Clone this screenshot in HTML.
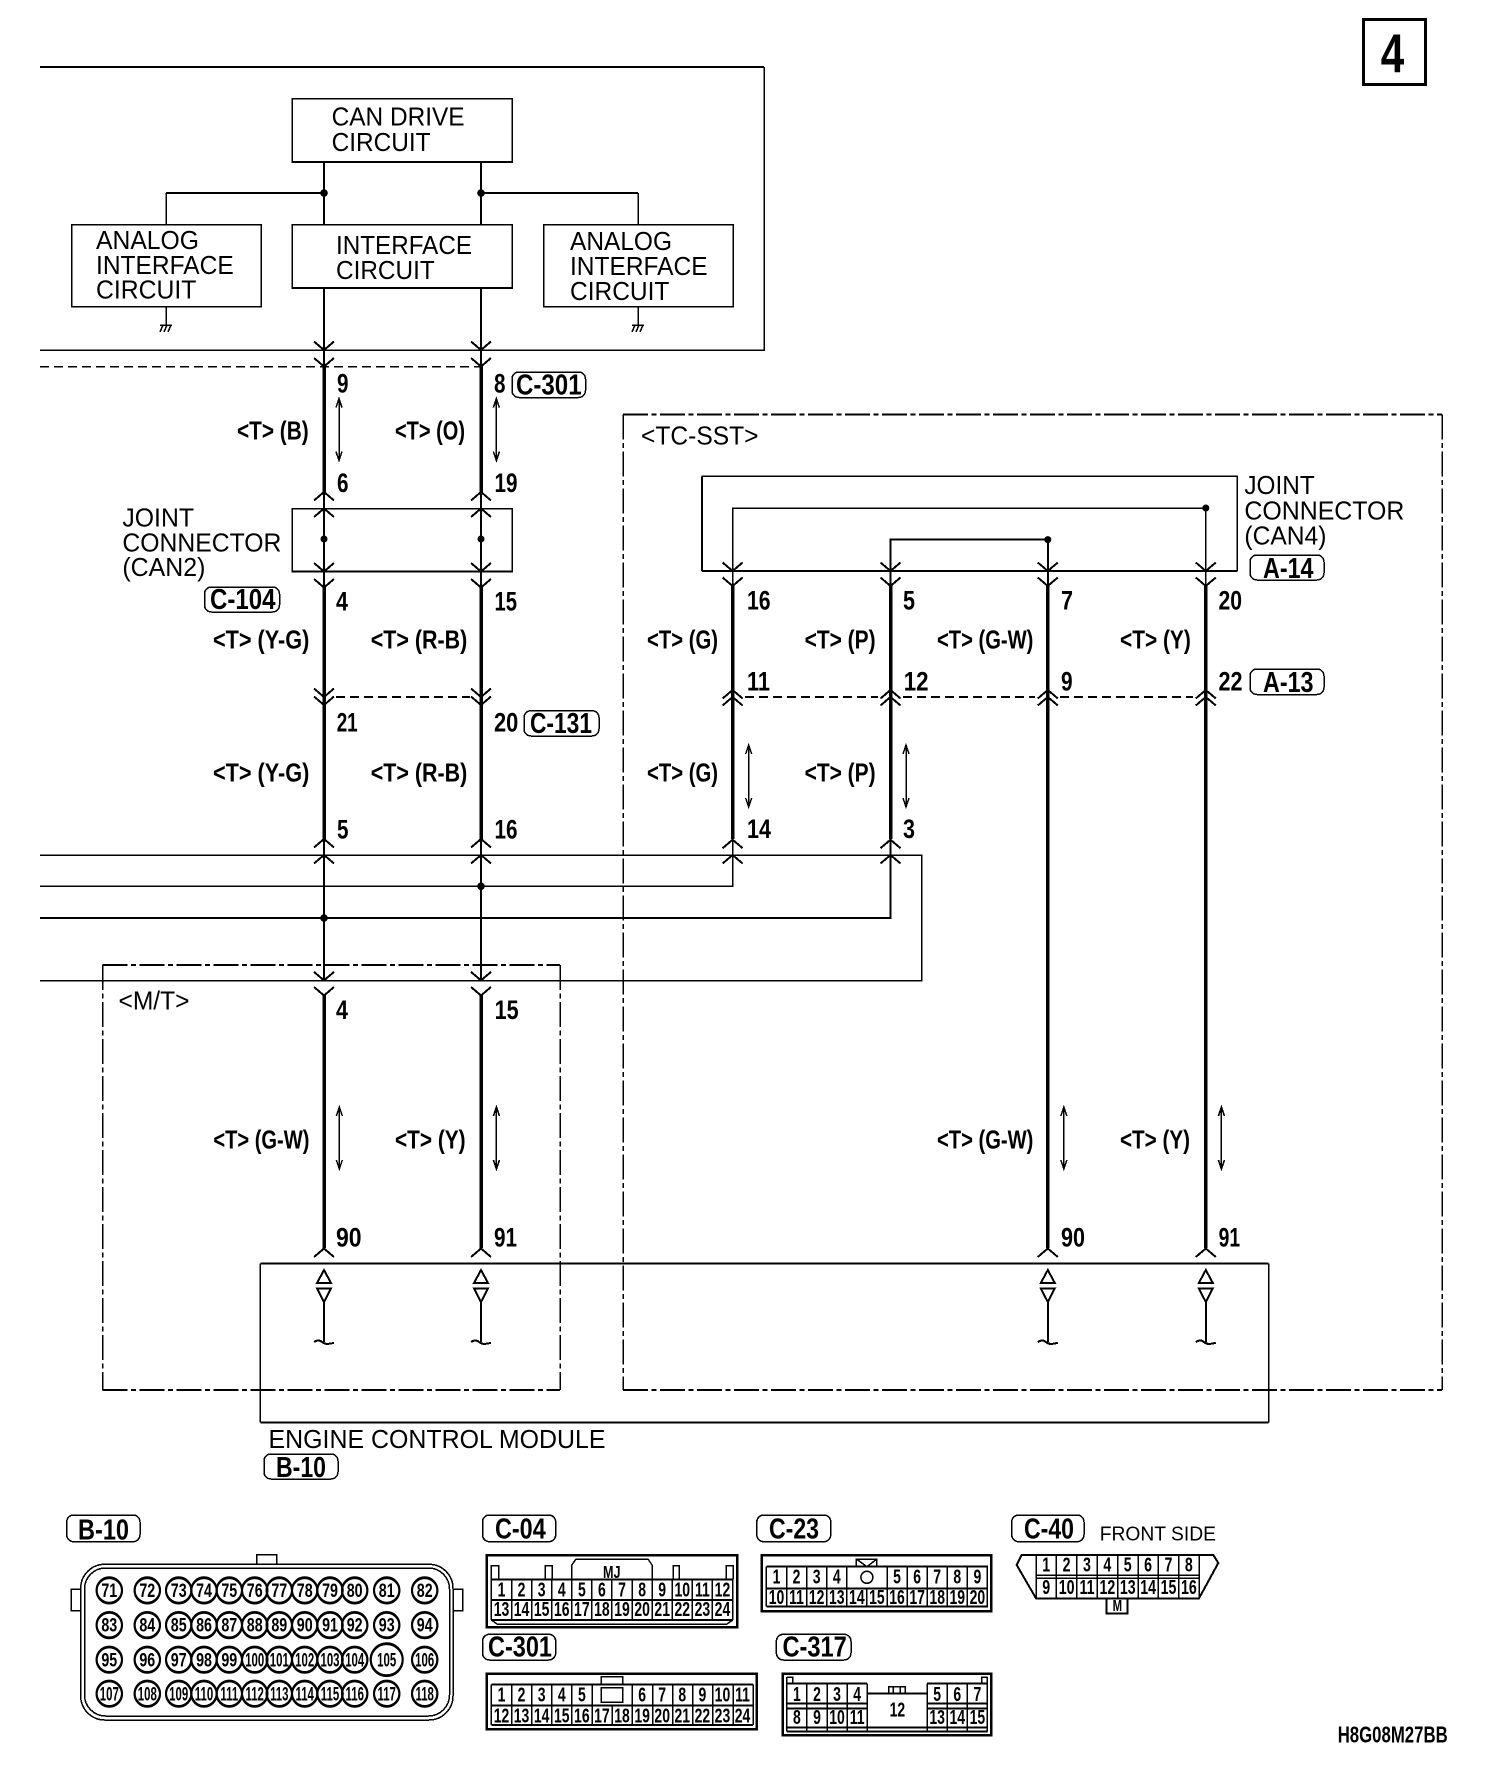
<!DOCTYPE html>
<html><head><meta charset="utf-8"><style>
html,body{margin:0;padding:0;background:#fff}
svg{display:block}
text{font-family:"Liberation Sans",sans-serif;fill:#000;stroke:none}
.t{font-size:26px}
.b{font-size:27px;font-weight:bold}
.g{font-size:29px;font-weight:bold}
.l{font-size:26px;font-weight:bold}
.n text{font-size:20px;font-weight:bold;text-anchor:middle}
.c text{font-size:19px;font-weight:bold;text-anchor:middle}
.s path,.s rect,.s circle,.s use{fill:none;stroke:#000;stroke-width:2}
path,rect{shape-rendering:crispEdges}
.s .th{stroke-width:3.5}
.s .f{stroke-width:1.5}
.s .bx{stroke-width:2.5}
.s .dd{stroke-dasharray:25 3.5 5 3.5}
.s .dv{stroke-width:1.5;stroke-dasharray:25 3.5 5 3.5}
.s .dot{fill:#000;stroke:none}
</style></head><body>
<svg xmlns="http://www.w3.org/2000/svg" width="1504" height="1768" viewBox="0 0 1504 1768">
<rect width="1504" height="1768" fill="#fff"/>
<defs>
<path id="v" d="M-10,-8.5L0,0L10,-8.5"/>
<path id="u" d="M-10,8.5L0,0L10,8.5"/>
<path id="da" d="M0,0V62M-3,9L0,0L3,9M-3,53L0,62L3,53"/>
<path id="gn" d="M0,-19V0M-6,0H6M-6,7L-3,0M-2,7L1,0M2,7L5,0"/>
<path id="tr" d="M0,0L-7,13H7ZM-7,18.4H7L0,32ZM0,32V72M-10,72Q-5,69 -2,72Q2,75 6,73.5L10,73"/>
</defs>
<g class="s">
<!-- corner box -->
<rect x="1363.5" y="19.5" width="62" height="65" style="stroke-width:3"/>
<!-- top frame -->
<path d="M40,67H764"/>
<path class="f" d="M764,67V350H40"/>
<path class="f" d="M40,366.5H481" style="stroke-dasharray:9 5"/>
<!-- boxes -->
<rect class="f" x="292" y="98.5" width="220" height="63.5"/>
<path d="M292,162H512"/>
<rect x="71.5" y="224.6" width="189.5" height="82" class="f"/>
<rect class="f" x="292" y="224.6" width="220" height="63.5"/>
<path d="M292,288H512"/>
<rect x="543.5" y="224.6" width="189.5" height="82" class="f"/>
<path d="M324,162V224.6M481,162V224.6M324,288V366M481,288V366"/>
<path d="M324,193H166"/><path d="M481,193H638"/>
<path class="f" d="M166,193V224.6M638,193V224.6"/>
<use class="f" href="#gn" x="166" y="325"/><use class="f" href="#gn" x="638" y="325"/>
<circle class="dot" cx="324" cy="193" r="3.8"/><circle class="dot" cx="481" cy="193" r="3.8"/>
<!-- joint can2 -->
<rect x="292" y="508.5" width="220" height="63" class="f"/>
<path d="M292,571.5H512"/>
<path d="M324,492V587M481,492V587"/>
<circle class="dot" cx="324" cy="539" r="3.5"/><circle class="dot" cx="481" cy="539" r="3.5"/>
<!-- thick wires left -->
<path class="th" d="M324,366V492M481,366V492M324,587V839M481,587V839M324,995.5V1248M481,995.5V1248"/>
<path d="M324,839V980M481,839V980"/>
<path d="M336,697H470" style="stroke-dasharray:9 5"/>
<!-- bus lines -->
<path class="f" d="M40,855H921.5V980.5H40"/>
<path class="f" d="M40,886.3H732.6V840"/>
<path d="M40,918H890.5V840"/>
<circle class="dot" cx="324" cy="918" r="3.8"/><circle class="dot" cx="481" cy="886.3" r="3.8"/>
<!-- right joint -->
<rect x="702" y="476.3" width="535" height="94.5" class="f"/>
<path d="M702,570.8H1237M702,476.3V570.8"/>
<path class="f" d="M732.6,586V508H1205.8V586"/>
<path d="M890.5,586V539.6H1047.8V586"/>
<circle class="dot" cx="1205.8" cy="508" r="3.5"/><circle class="dot" cx="1047.8" cy="539.6" r="3.5"/>
<path class="th" d="M732.6,586V839M890.5,586V839M1047.8,586V1248M1205.8,586V1248"/>
<path d="M745,697H878M903,697H1035M1060,697H1193" style="stroke-dasharray:9 5"/>
<!-- chevrons -->
<use href="#v" x="324" y="350"/><use href="#v" x="481" y="350"/><use href="#v" x="324" y="366.5"/><use href="#v" x="481" y="366.5"/>
<use href="#u" x="324" y="492"/><use href="#u" x="481" y="492"/><use href="#u" x="324" y="508.5"/><use href="#u" x="481" y="508.5"/>
<use href="#v" x="324" y="571.5"/><use href="#v" x="481" y="571.5"/><use href="#v" x="324" y="587.5"/><use href="#v" x="481" y="587.5"/>
<use href="#v" x="324" y="697"/><use href="#v" x="481" y="697"/><use href="#v" x="324" y="705"/><use href="#v" x="481" y="705"/>
<use href="#u" x="324" y="839"/><use href="#u" x="481" y="839"/><use href="#u" x="324" y="855"/><use href="#u" x="481" y="855"/>
<use href="#v" x="324" y="980.4"/><use href="#v" x="481" y="980.4"/><use href="#v" x="324" y="995.5"/><use href="#v" x="481" y="995.5"/>
<use href="#u" x="324" y="1248.5"/><use href="#u" x="481" y="1248.5"/><use href="#u" x="1047.8" y="1248.5"/><use href="#u" x="1205.8" y="1248.5"/>
<use href="#v" x="732.6" y="571"/><use href="#v" x="890.5" y="571"/><use href="#v" x="1047.8" y="571"/><use href="#v" x="1205.8" y="571"/>
<use href="#v" x="732.6" y="586"/><use href="#v" x="890.5" y="586"/><use href="#v" x="1047.8" y="586"/><use href="#v" x="1205.8" y="586"/>
<use href="#u" x="732.6" y="690"/><use href="#u" x="890.5" y="690"/><use href="#u" x="1047.8" y="690"/><use href="#u" x="1205.8" y="690"/>
<use href="#u" x="732.6" y="697"/><use href="#u" x="890.5" y="697"/><use href="#u" x="1047.8" y="697"/><use href="#u" x="1205.8" y="697"/>
<use href="#u" x="732.6" y="839.7"/><use href="#u" x="890.5" y="839.7"/><use href="#u" x="732.6" y="855"/><use href="#u" x="890.5" y="855"/>
<!-- double arrows -->
<use class="f" href="#da" x="339" y="398.6"/><use class="f" href="#da" x="496.4" y="398.6"/>
<use class="f" href="#da" x="748.7" y="745"/><use class="f" href="#da" x="906" y="745"/>
<use class="f" href="#da" x="339.3" y="1107"/><use class="f" href="#da" x="496.4" y="1107"/><use class="f" href="#da" x="1063.8" y="1107"/><use class="f" href="#da" x="1221.4" y="1107"/>
<!-- dash-dot -->
<path class="dd" d="M623,414.5H1442"/><path class="dd" d="M623,1390H1442"/>
<path class="dv" d="M623,414.5V1390"/><path class="dv" d="M1442,414.5V1390"/>
<path class="dd" d="M102.7,964.8H560"/><path class="dd" d="M102.7,1389.8H560"/>
<path class="dv" d="M102.7,964.8V1389.8"/><path class="dv" d="M560,964.8V1389.8"/>
<!-- ECM -->
<path d="M260.3,1263.6H1268.7M260.3,1422.3H1268.7"/>
<path class="f" d="M260.3,1263.6V1422.3M1268.7,1263.6V1422.3"/>
<use href="#tr" x="324" y="1270"/><use href="#tr" x="481" y="1270"/><use href="#tr" x="1047.8" y="1270"/><use href="#tr" x="1205.8" y="1270"/>
<!-- pills -->
<rect class="f" x="512" y="372" width="73.5" height="25.5" rx="7"/>
<rect class="f" x="204.5" y="587" width="75" height="25" rx="7"/>
<rect class="f" x="524" y="710.7" width="75" height="25.3" rx="7"/>
<rect class="f" x="1250" y="555" width="74" height="25" rx="7"/>
<rect class="f" x="1250" y="669" width="74" height="25.5" rx="7"/>
<rect class="f" x="264" y="1454" width="74" height="25" rx="7"/>
<rect class="f" x="66.7" y="1515" width="73.3" height="26.7" rx="7"/>
<rect class="f" x="482.5" y="1515" width="73.2" height="26.7" rx="7"/>
<rect class="f" x="756.8" y="1515" width="74" height="26.7" rx="7"/>
<rect class="f" x="1011.7" y="1515" width="72.3" height="26.7" rx="7"/>
<rect class="f" x="482.5" y="1634.3" width="73.2" height="25.7" rx="7"/>
<rect class="f" x="776.4" y="1634.3" width="74.6" height="25.7" rx="7"/>
<!-- B-10 -->
<rect class="f" x="80.7" y="1564.3" width="372.3" height="155.7" rx="24"/>
<rect class="f" x="84.5" y="1568" width="365" height="148" rx="21"/>
<path class="f" d="M256.7,1564V1554.7H276.7V1564M80.7,1589.3H71V1610.7H80.7M453,1589.3H462.7V1610.7H453"/>
<g id="cs" class="f">
<circle cx="109.3" cy="1590" r="12.7"/><circle cx="147.3" cy="1590" r="12.7"/><circle cx="178.7" cy="1590" r="12.7"/><circle cx="204" cy="1590" r="12.7"/><circle cx="229.3" cy="1590" r="12.7"/><circle cx="254.7" cy="1590" r="12.7"/><circle cx="279.3" cy="1590" r="12.7"/><circle cx="304.7" cy="1590" r="12.7"/><circle cx="330" cy="1590" r="12.7"/><circle cx="354.7" cy="1590" r="12.7"/><circle cx="386.7" cy="1590" r="12.7"/><circle cx="424.7" cy="1590" r="12.7"/>
<circle cx="109.3" cy="1624.7" r="12.7"/><circle cx="147.3" cy="1624.7" r="12.7"/><circle cx="178.7" cy="1624.7" r="12.7"/><circle cx="204" cy="1624.7" r="12.7"/><circle cx="229.3" cy="1624.7" r="12.7"/><circle cx="254.7" cy="1624.7" r="12.7"/><circle cx="279.3" cy="1624.7" r="12.7"/><circle cx="304.7" cy="1624.7" r="12.7"/><circle cx="330" cy="1624.7" r="12.7"/><circle cx="354.7" cy="1624.7" r="12.7"/><circle cx="386.7" cy="1624.7" r="12.7"/><circle cx="424.7" cy="1624.7" r="12.7"/>
<circle cx="109.3" cy="1659.3" r="12.7"/><circle cx="147.3" cy="1659.3" r="12.7"/><circle cx="178.7" cy="1659.3" r="12.7"/><circle cx="204" cy="1659.3" r="12.7"/><circle cx="229.3" cy="1659.3" r="12.7"/><circle cx="254.7" cy="1659.3" r="12.7"/><circle cx="279.3" cy="1659.3" r="12.7"/><circle cx="304.7" cy="1659.3" r="12.7"/><circle cx="330" cy="1659.3" r="12.7"/><circle cx="354.7" cy="1659.3" r="12.7"/><circle cx="386.7" cy="1659.3" r="16"/><circle cx="424.7" cy="1659.3" r="12.7"/>
<circle cx="109.3" cy="1693.3" r="12.7"/><circle cx="147.3" cy="1693.3" r="12.7"/><circle cx="178.7" cy="1693.3" r="12.7"/><circle cx="204" cy="1693.3" r="12.7"/><circle cx="229.3" cy="1693.3" r="12.7"/><circle cx="254.7" cy="1693.3" r="12.7"/><circle cx="279.3" cy="1693.3" r="12.7"/><circle cx="304.7" cy="1693.3" r="12.7"/><circle cx="330" cy="1693.3" r="12.7"/><circle cx="354.7" cy="1693.3" r="12.7"/><circle cx="386.7" cy="1693.3" r="12.7"/><circle cx="424.7" cy="1693.3" r="12.7"/>
</g>
<use href="#cs" y="0.8" class="f"/>
<!-- C-04 -->
<rect class="bx" x="486.8" y="1555" width="250.2" height="72.3"/>
<path d="M491.4,1579.3H732.9M491.4,1600H732.9M491.4,1620H732.9"/>
<path class="f" d="M491.4,1579V1620m20.1,-41v41m20.1,-41v41m20.1,-41v41m20.1,-41v41m20.1,-41v41m20.1,-41v41m20.1,-41v41m20.1,-41v41m20.1,-41v41m20.1,-41v41m20.1,-41v41m20.1,-41v41"/>
<path class="f" d="M491.4,1579V1565.7H498.6V1579M545,1579V1565.7H552V1579M673,1579V1565.7H679V1579M726.4,1579V1565.7H733V1579M571.8,1579V1565L576,1559H648L652,1565V1579M491.4,1620L497,1624H727L732.9,1620"/>
<!-- C-23 -->
<rect class="bx" x="761.8" y="1555" width="229.6" height="56"/>
<path d="M766.4,1566.7H987.9M766.4,1588.3H866.9M766.4,1588.3H987.9M766.4,1606.7H987.9"/>
<path class="f" d="M766.4,1566.7V1606.7m20.1,-40v40m20.1,-40v40m20.1,-40v40m20.1,-40v40M866.9,1588.3V1606.7M887,1566.7V1606.7m20.1,-40v40m20.1,-40v40m20.1,-40v40m20.1,-40v40m20.1,-40v40"/>
<circle class="f" cx="866.9" cy="1577.3" r="6"/>
<path class="f" d="M856.4,1566.7V1559H876.9V1566.7M856.4,1559L866.9,1566.7L876.9,1559"/>
<!-- C-301 -->
<rect class="bx" x="486.8" y="1673.7" width="270" height="55.6"/>
<path d="M491.4,1684.3H753.2M491.4,1705.7H753.2M491.4,1725H753.2"/>
<path class="f" d="M491.4,1684.3V1725m20.14,-40.7v40.7m20.14,-40.7v40.7m20.14,-40.7v40.7m20.14,-40.7v40.7m20.14,-40.7v40.7M612.2,1705.7V1725M632.4,1684.3V1725m20.14,-40.7v40.7m20.14,-40.7v40.7m20.14,-40.7v40.7m20.14,-40.7v40.7m20.14,-40.7v40.7m20.14,-40.7v40.7"/>
<rect class="f" x="601.4" y="1687.7" width="21.5" height="14.6"/>
<path class="f" d="M601.4,1684.3V1676.7H622.9V1684.3"/>
<!-- C-317 -->
<rect class="bx" x="782.5" y="1673.7" width="208.9" height="61.6"/>
<path d="M786.8,1683.3H867.2M927.1,1683.3H987.4M786.8,1703.3H867.2M927.1,1703.3H987.4M786.8,1708.3H867.2M927.1,1708.3H987.4M786.8,1727.7H987.4M786.8,1731.7H987.4M867.2,1693.3H927.1"/>
<path class="f" d="M786.8,1677V1731.7M806.9,1683.3V1731.7M827,1683.3V1731.7M847.1,1683.3V1731.7M867.2,1683.3V1731.7M927.1,1683.3V1731.7M947.2,1683.3V1731.7M967.3,1683.3V1731.7M987.4,1677V1731.7"/>
<path class="f" d="M786.8,1677H792.5V1683.3M987.4,1677H981.5V1683.3M888.6,1693.3V1686.7H905V1693.3M893,1686.7V1693.3M900,1686.7V1693.3"/>
<!-- C-40 -->
<path d="M1036,1598.3L1016.7,1565L1021.7,1555H1213.3L1218.3,1563L1199,1598.3Z"/>
<path class="f" d="M1036,1555V1598.3m20.4,-43.3v43.3m20.4,-43.3v43.3m20.4,-43.3v43.3m20.4,-43.3v43.3m20.4,-43.3v43.3m20.4,-43.3v43.3m20.4,-43.3v43.3m20.4,-43.3v43.3M1036,1575H1199M1036,1578.3H1199"/>
<path d="M1106.7,1598.3V1613.3H1127.3V1598.3"/>
</g>

<!-- main text -->
<text x="1380.7" y="72" style="font-size:55px;font-weight:bold" textLength="23.5" lengthAdjust="spacingAndGlyphs">4</text>
<text class="t" x="331.6" y="125.7" textLength="133" lengthAdjust="spacingAndGlyphs">CAN DRIVE</text>
<text class="t" x="331.6" y="151" textLength="99" lengthAdjust="spacingAndGlyphs">CIRCUIT</text>
<text class="t" x="96" y="249" textLength="103" lengthAdjust="spacingAndGlyphs">ANALOG</text>
<text class="t" x="96" y="274" textLength="137.7" lengthAdjust="spacingAndGlyphs">INTERFACE</text>
<text class="t" x="96" y="298.5" textLength="100.4" lengthAdjust="spacingAndGlyphs">CIRCUIT</text>
<text class="t" x="336" y="254" textLength="136" lengthAdjust="spacingAndGlyphs">INTERFACE</text>
<text class="t" x="336" y="279" textLength="98.7" lengthAdjust="spacingAndGlyphs">CIRCUIT</text>
<text class="t" x="570" y="250" textLength="102" lengthAdjust="spacingAndGlyphs">ANALOG</text>
<text class="t" x="570" y="275" textLength="137.6" lengthAdjust="spacingAndGlyphs">INTERFACE</text>
<text class="t" x="570" y="300" textLength="99.4" lengthAdjust="spacingAndGlyphs">CIRCUIT</text>
<text class="t" x="122.4" y="526.7" textLength="71.6" lengthAdjust="spacingAndGlyphs">JOINT</text>
<text class="t" x="122.4" y="551.6" textLength="159" lengthAdjust="spacingAndGlyphs">CONNECTOR</text>
<text class="t" x="122.4" y="576" textLength="83" lengthAdjust="spacingAndGlyphs">(CAN2)</text>
<text class="t" x="1244.4" y="494" textLength="70.3" lengthAdjust="spacingAndGlyphs">JOINT</text>
<text class="t" x="1244.4" y="519.4" textLength="160" lengthAdjust="spacingAndGlyphs">CONNECTOR</text>
<text class="t" x="1244.4" y="544.3" textLength="82" lengthAdjust="spacingAndGlyphs">(CAN4)</text>
<text class="t" x="641" y="444.7" textLength="117.5" lengthAdjust="spacingAndGlyphs">&lt;TC-SST&gt;</text>
<text class="t" x="118.5" y="1009.4" textLength="71" lengthAdjust="spacingAndGlyphs">&lt;M/T&gt;</text>
<text class="t" x="268.5" y="1448" textLength="337" lengthAdjust="spacingAndGlyphs">ENGINE CONTROL MODULE</text>
<text x="1099.7" y="1540.7" style="font-size:20px" textLength="116.3" lengthAdjust="spacingAndGlyphs">FRONT SIDE</text>
<text x="1337.7" y="1742.7" style="font-size:23px;font-weight:bold" textLength="110" lengthAdjust="spacingAndGlyphs">H8G08M27BB</text>

<!-- pin numbers -->
<text class="b" x="337" y="392.6" textLength="11.5" lengthAdjust="spacingAndGlyphs">9</text>
<text class="b" x="494" y="392.6" textLength="11.5" lengthAdjust="spacingAndGlyphs">8</text>
<text class="b" x="337" y="492" textLength="11.5" lengthAdjust="spacingAndGlyphs">6</text>
<text class="b" x="494.5" y="492" textLength="23" lengthAdjust="spacingAndGlyphs">19</text>
<text class="b" x="336" y="610.7" textLength="12" lengthAdjust="spacingAndGlyphs">4</text>
<text class="b" x="494.5" y="610.7" textLength="22.5" lengthAdjust="spacingAndGlyphs">15</text>
<text class="b" x="336.7" y="731.7" textLength="21" lengthAdjust="spacingAndGlyphs">21</text>
<text class="b" x="494" y="731.7" textLength="24.3" lengthAdjust="spacingAndGlyphs">20</text>
<text class="b" x="337" y="838.3" textLength="11.5" lengthAdjust="spacingAndGlyphs">5</text>
<text class="b" x="494.5" y="838.3" textLength="23" lengthAdjust="spacingAndGlyphs">16</text>
<text class="b" x="336" y="1019" textLength="12" lengthAdjust="spacingAndGlyphs">4</text>
<text class="b" x="494.6" y="1019" textLength="24" lengthAdjust="spacingAndGlyphs">15</text>
<text class="b" x="336" y="1246.5" textLength="25.6" lengthAdjust="spacingAndGlyphs">90</text>
<text class="b" x="494" y="1246.5" textLength="23" lengthAdjust="spacingAndGlyphs">91</text>
<text class="b" x="1061" y="1246.5" textLength="24" lengthAdjust="spacingAndGlyphs">90</text>
<text class="b" x="1218.6" y="1246.5" textLength="21.5" lengthAdjust="spacingAndGlyphs">91</text>
<text class="b" x="747" y="609.6" textLength="23.6" lengthAdjust="spacingAndGlyphs">16</text>
<text class="b" x="903" y="609.6" textLength="12" lengthAdjust="spacingAndGlyphs">5</text>
<text class="b" x="1061" y="609.6" textLength="12" lengthAdjust="spacingAndGlyphs">7</text>
<text class="b" x="1218.5" y="609.6" textLength="23.5" lengthAdjust="spacingAndGlyphs">20</text>
<text class="b" x="747" y="690.6" textLength="23" lengthAdjust="spacingAndGlyphs">11</text>
<text class="b" x="903.7" y="690.6" textLength="24.8" lengthAdjust="spacingAndGlyphs">12</text>
<text class="b" x="1061" y="690.6" textLength="11.6" lengthAdjust="spacingAndGlyphs">9</text>
<text class="b" x="1218.5" y="690.6" textLength="24" lengthAdjust="spacingAndGlyphs">22</text>
<text class="b" x="747" y="838" textLength="24" lengthAdjust="spacingAndGlyphs">14</text>
<text class="b" x="903" y="838" textLength="12" lengthAdjust="spacingAndGlyphs">3</text>

<!-- wire colour labels -->
<text class="l" x="237" y="439.5" textLength="71.7" lengthAdjust="spacingAndGlyphs">&lt;T&gt; (B)</text>
<text class="l" x="395" y="439.5" textLength="70" lengthAdjust="spacingAndGlyphs">&lt;T&gt; (O)</text>
<text class="l" x="213" y="648.5" textLength="96.3" lengthAdjust="spacingAndGlyphs">&lt;T&gt; (Y-G)</text>
<text class="l" x="370.7" y="648.5" textLength="96.6" lengthAdjust="spacingAndGlyphs">&lt;T&gt; (R-B)</text>
<text class="l" x="213" y="781.7" textLength="96.3" lengthAdjust="spacingAndGlyphs">&lt;T&gt; (Y-G)</text>
<text class="l" x="370.7" y="781.7" textLength="96.6" lengthAdjust="spacingAndGlyphs">&lt;T&gt; (R-B)</text>
<text class="l" x="647" y="648.5" textLength="71" lengthAdjust="spacingAndGlyphs">&lt;T&gt; (G)</text>
<text class="l" x="804.6" y="648.5" textLength="71" lengthAdjust="spacingAndGlyphs">&lt;T&gt; (P)</text>
<text class="l" x="937" y="648.5" textLength="96.4" lengthAdjust="spacingAndGlyphs">&lt;T&gt; (G-W)</text>
<text class="l" x="1120" y="648.5" textLength="70.8" lengthAdjust="spacingAndGlyphs">&lt;T&gt; (Y)</text>
<text class="l" x="647" y="781.7" textLength="71" lengthAdjust="spacingAndGlyphs">&lt;T&gt; (G)</text>
<text class="l" x="804.6" y="781.7" textLength="71" lengthAdjust="spacingAndGlyphs">&lt;T&gt; (P)</text>
<text class="l" x="213.4" y="1148.5" textLength="96" lengthAdjust="spacingAndGlyphs">&lt;T&gt; (G-W)</text>
<text class="l" x="395" y="1148.5" textLength="70.6" lengthAdjust="spacingAndGlyphs">&lt;T&gt; (Y)</text>
<text class="l" x="937" y="1148.5" textLength="96.4" lengthAdjust="spacingAndGlyphs">&lt;T&gt; (G-W)</text>
<text class="l" x="1120" y="1148.5" textLength="70" lengthAdjust="spacingAndGlyphs">&lt;T&gt; (Y)</text>

<!-- tags -->
<text class="g" x="516" y="394.6" textLength="65.6" lengthAdjust="spacingAndGlyphs">C-301</text>
<text class="g" x="210" y="609" textLength="65.5" lengthAdjust="spacingAndGlyphs">C-104</text>
<text class="g" x="530" y="733" textLength="62" lengthAdjust="spacingAndGlyphs">C-131</text>
<text class="g" x="1263" y="578" textLength="50.5" lengthAdjust="spacingAndGlyphs">A-14</text>
<text class="g" x="1263" y="692" textLength="50.5" lengthAdjust="spacingAndGlyphs">A-13</text>
<text class="g" x="276" y="1477" textLength="50" lengthAdjust="spacingAndGlyphs">B-10</text>
<text class="g" x="78" y="1539.3" textLength="51" lengthAdjust="spacingAndGlyphs">B-10</text>
<text class="g" x="495" y="1538.5" textLength="50.7" lengthAdjust="spacingAndGlyphs">C-04</text>
<text class="g" x="769" y="1538.5" textLength="50" lengthAdjust="spacingAndGlyphs">C-23</text>
<text class="g" x="1024" y="1538.5" textLength="50" lengthAdjust="spacingAndGlyphs">C-40</text>
<text class="g" x="488" y="1656.7" textLength="64" lengthAdjust="spacingAndGlyphs">C-301</text>
<text class="g" x="782.5" y="1656.7" textLength="64.3" lengthAdjust="spacingAndGlyphs">C-317</text>

<!-- B-10 pins -->
<g class="c" transform="scale(.75,1)">
<text x="145.7" y="1597">71</text><text x="196.4" y="1597">72</text><text x="238.3" y="1597">73</text><text x="272" y="1597">74</text><text x="305.7" y="1597">75</text><text x="339.6" y="1597">76</text><text x="372.4" y="1597">77</text><text x="406.3" y="1597">78</text><text x="440" y="1597">79</text><text x="472.9" y="1597">80</text><text x="515.6" y="1597">81</text><text x="566.3" y="1597">82</text>
<text x="145.7" y="1631.7">83</text><text x="196.4" y="1631.7">84</text><text x="238.3" y="1631.7">85</text><text x="272" y="1631.7">86</text><text x="305.7" y="1631.7">87</text><text x="339.6" y="1631.7">88</text><text x="372.4" y="1631.7">89</text><text x="406.3" y="1631.7">90</text><text x="440" y="1631.7">91</text><text x="472.9" y="1631.7">92</text><text x="515.6" y="1631.7">93</text><text x="566.3" y="1631.7">94</text>
<text x="145.7" y="1666.3">95</text><text x="196.4" y="1666.3">96</text><text x="238.3" y="1666.3">97</text><text x="272" y="1666.3">98</text><text x="305.7" y="1666.3">99</text>
</g>
<g class="c" transform="scale(.6,1)">
<text x="424.5" y="1666.3">100</text><text x="465.5" y="1666.3">101</text><text x="507.8" y="1666.3">102</text><text x="550" y="1666.3">103</text><text x="591.2" y="1666.3">104</text><text x="644.5" y="1666.3">105</text><text x="707.8" y="1666.3">106</text>
<text x="182.2" y="1700.3">107</text><text x="245.5" y="1700.3">108</text><text x="297.8" y="1700.3">109</text><text x="340" y="1700.3">110</text><text x="382.2" y="1700.3">111</text><text x="424.5" y="1700.3">112</text><text x="465.5" y="1700.3">113</text><text x="507.8" y="1700.3">114</text><text x="550" y="1700.3">115</text><text x="591.2" y="1700.3">116</text><text x="644.5" y="1700.3">117</text><text x="707.8" y="1700.3">118</text>
</g>

<!-- C-04 pins -->
<g class="n" transform="translate(491.4,0) scale(.7,1)">
<text x="14.4" y="1596.7">1</text><text x="43.1" y="1596.7">2</text><text x="71.8" y="1596.7">3</text><text x="100.5" y="1596.7">4</text><text x="129.2" y="1596.7">5</text><text x="157.9" y="1596.7">6</text><text x="186.6" y="1596.7">7</text><text x="215.3" y="1596.7">8</text><text x="244" y="1596.7">9</text><text x="272.7" y="1596.7">10</text><text x="301.4" y="1596.7">11</text><text x="330.1" y="1596.7">12</text>
<text x="14.4" y="1616">13</text><text x="43.1" y="1616">14</text><text x="71.8" y="1616">15</text><text x="100.5" y="1616">16</text><text x="129.2" y="1616">17</text><text x="157.9" y="1616">18</text><text x="186.6" y="1616">19</text><text x="215.3" y="1616">20</text><text x="244" y="1616">21</text><text x="272.7" y="1616">22</text><text x="301.4" y="1616">23</text><text x="330.1" y="1616">24</text>
<text x="172" y="1578" style="font-size:18px">MJ</text>
</g>
<!-- C-23 pins -->
<g class="n" transform="translate(766.4,0) scale(.7,1)">
<text x="14.4" y="1583.5">1</text><text x="43.1" y="1583.5">2</text><text x="71.8" y="1583.5">3</text><text x="100.5" y="1583.5">4</text><text x="186.6" y="1583.5">5</text><text x="215.3" y="1583.5">6</text><text x="244" y="1583.5">7</text><text x="272.7" y="1583.5">8</text><text x="301.4" y="1583.5">9</text>
<text x="14.4" y="1604">10</text><text x="43.1" y="1604">11</text><text x="71.8" y="1604">12</text><text x="100.5" y="1604">13</text><text x="129.2" y="1604">14</text><text x="157.9" y="1604">15</text><text x="186.6" y="1604">16</text><text x="215.3" y="1604">17</text><text x="244" y="1604">18</text><text x="272.7" y="1604">19</text><text x="301.4" y="1604">20</text>
</g>
<!-- C-301 pins -->
<g class="n" transform="translate(491.4,0) scale(.7,1)">
<text x="14.4" y="1701.7">1</text><text x="43.1" y="1701.7">2</text><text x="71.8" y="1701.7">3</text><text x="100.5" y="1701.7">4</text><text x="129.2" y="1701.7">5</text><text x="215.3" y="1701.7">6</text><text x="244" y="1701.7">7</text><text x="272.7" y="1701.7">8</text><text x="301.4" y="1701.7">9</text><text x="330.1" y="1701.7">10</text><text x="358.8" y="1701.7">11</text>
<text x="14.4" y="1722.7">12</text><text x="43.1" y="1722.7">13</text><text x="71.8" y="1722.7">14</text><text x="100.5" y="1722.7">15</text><text x="129.2" y="1722.7">16</text><text x="157.9" y="1722.7">17</text><text x="186.6" y="1722.7">18</text><text x="215.3" y="1722.7">19</text><text x="244" y="1722.7">20</text><text x="272.7" y="1722.7">21</text><text x="301.4" y="1722.7">22</text><text x="330.1" y="1722.7">23</text><text x="358.8" y="1722.7">24</text>
</g>
<!-- C-317 pins -->
<g class="n" transform="translate(786.8,0) scale(.7,1)">
<text x="14.4" y="1701">1</text><text x="43.1" y="1701">2</text><text x="71.8" y="1701">3</text><text x="100.5" y="1701">4</text>
<text x="14.4" y="1724">8</text><text x="43.1" y="1724">9</text><text x="71.8" y="1724">10</text><text x="100.5" y="1724">11</text>
<text x="158" y="1716.7">12</text>
</g>
<g class="n" transform="translate(927.1,0) scale(.7,1)">
<text x="14.4" y="1701">5</text><text x="43.1" y="1701">6</text><text x="71.8" y="1701">7</text>
<text x="14.4" y="1724">13</text><text x="43.1" y="1724">14</text><text x="71.8" y="1724">15</text>
</g>
<!-- C-40 pins -->
<g class="n" transform="translate(1036,0) scale(.71,1)">
<text x="14.4" y="1571.7">1</text><text x="43.1" y="1571.7">2</text><text x="71.8" y="1571.7">3</text><text x="100.5" y="1571.7">4</text><text x="129.2" y="1571.7">5</text><text x="157.9" y="1571.7">6</text><text x="186.6" y="1571.7">7</text><text x="215.3" y="1571.7">8</text>
<text x="14.4" y="1594">9</text><text x="43.1" y="1594">10</text><text x="71.8" y="1594">11</text><text x="100.5" y="1594">12</text><text x="129.2" y="1594">13</text><text x="157.9" y="1594">14</text><text x="186.6" y="1594">15</text><text x="215.3" y="1594">16</text>
<text x="114.5" y="1611" style="font-size:16px">M</text>
</g>
</svg>
</body></html>
